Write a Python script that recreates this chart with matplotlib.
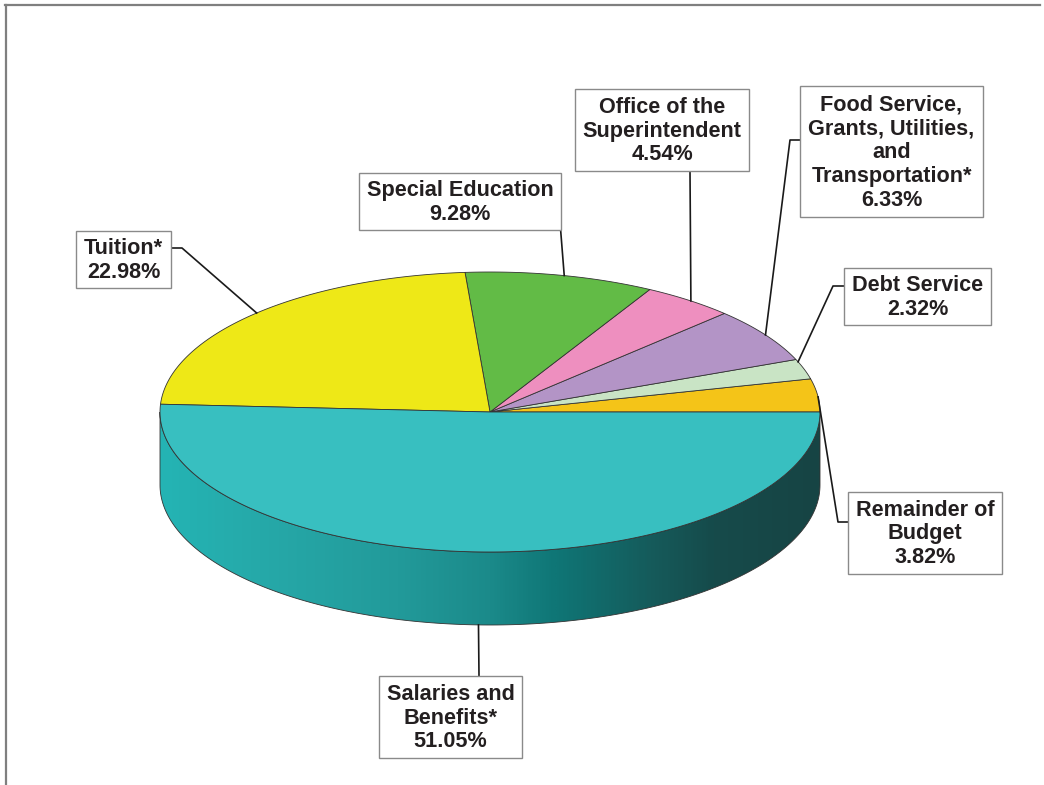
import matplotlib
matplotlib.use("Agg")
import matplotlib.pyplot as plt
import numpy as np
from matplotlib.patches import Polygon, Rectangle
from matplotlib.colors import LinearSegmentedColormap, to_rgb

# budget shares, counter-clockwise from 3 o'clock
categories = ["Remainder of\nBudget", "Debt Service",
              "Food Service,\nGrants, Utilities,\nand\nTransportation*",
              "Office of the\nSuperintendent", "Special Education",
              "Tuition*", "Salaries and\nBenefits*"]
shares = [3.82, 2.32, 6.33, 4.54, 9.28, 22.98, 51.05]
colors = ["#f4c418", "#c9e4c5", "#b394c6", "#ee8fbf", "#62bb46",
          "#eee817", "#38bfc0"]

# pie geometry in pixels (y grows downward)
CX, CY, RX, RY, DEPTH = 490, 412, 330, 140, 73

# label boxes (x0, y0, x1, y1), leader start/elbow, angle where leader hits pie
boxes = [(848, 492, 1002, 574), (844, 268, 991, 325), (800, 86, 983, 217),
         (575, 89, 749, 171), (359, 173, 561, 230), (76, 231, 171, 288),
         (379, 676, 522, 758)]
leaders = [[(848, 522), (838, 522)], [(844, 286), (833, 286)],
           [(800, 140), (790, 140)], [(690, 171)], [(560, 222)],
           [(171, 248), (182, 248)], [(479, 676)]]
hit_angle = [6.2, 21.0, 33.4, 52.5, 77.0, 135.0, 268.0]
hit_bottom = [False, False, False, False, False, False, True]

side_cmap = LinearSegmentedColormap.from_list("side", [
    (0.00, "#24b4b4"), (0.15, "#26a9a9"), (0.36, "#229a9a"),
    (0.50, "#1b8a8a"), (0.60, "#0f7676"), (0.74, "#155c5c"),
    (0.84, "#164b4b"), (1.00, "#174444")])


def ell(t_deg, dy=0):
    t = np.radians(t_deg)
    return CX + RX * np.cos(t), CY - RY * np.sin(t) + dy


fig = plt.figure(figsize=(10.44, 7.85), dpi=100)
ax = fig.add_axes([0, 0, 1, 1])
ax.set_xlim(0, 1044)
ax.set_ylim(785, 0)
ax.axis("off")

frac = np.array(shares) / sum(shares)
bounds = np.concatenate([[0], np.cumsum(frac) * 360])

# front side walls
for i, col in enumerate(colors):
    s, e = max(bounds[i], 180), min(bounds[i + 1], 360)
    if e <= s:
        continue
    t = np.linspace(s, e, 200)
    xt, yt = ell(t)
    xb, yb = ell(t[::-1], DEPTH)
    poly = Polygon(np.column_stack([np.r_[xt, xb], np.r_[yt, yb]]),
                   closed=True, facecolor="none", edgecolor="#333333",
                   lw=0.6, zorder=2)
    ax.add_patch(poly)
    if col == "#38bfc0":
        grad = side_cmap(np.linspace(0, 1, 400))[None, :, :3]
    else:
        c = np.array(to_rgb(col)) * 0.7
        grad = np.tile(c, (1, 2, 1))
    im = ax.imshow(grad, extent=(CX - RX, CX + RX, CY + RY + DEPTH + 2, CY - 2),
                   aspect="auto", zorder=1, interpolation="bilinear")
    im.set_clip_path(poly)

# top faces
for i, col in enumerate(colors):
    t = np.linspace(bounds[i], bounds[i + 1], 200)
    xt, yt = ell(t)
    pts = np.column_stack([np.r_[CX, xt], np.r_[CY, yt]])
    ax.add_patch(Polygon(pts, closed=True, facecolor=col,
                         edgecolor="#333333", lw=0.6, zorder=3))

# labels
for i, name in enumerate(categories):
    x0, y0, x1, y1 = boxes[i]
    ax.add_patch(Rectangle((x0, y0), x1 - x0, y1 - y0, facecolor="white",
                           edgecolor="#8a8a8a", lw=1.0, zorder=5))
    ax.text((x0 + x1) / 2, (y0 + y1) / 2 + 1, f"{name}\n{shares[i]:.2f}%",
            ha="center", va="center", fontsize=15.6, fontweight="bold",
            family="Liberation Sans", color="#231f20", linespacing=1.18,
            zorder=6)
    end = ell(hit_angle[i], DEPTH if hit_bottom[i] else 0)
    pts = leaders[i] + [end]
    ax.plot([p[0] for p in pts], [p[1] for p in pts], color="#1a1a1a",
            lw=1.2, zorder=4)

# outer frame (top and left only)
ax.plot([5, 1040], [5, 5], color="#7f7f7f", lw=1.6)
ax.plot([6, 6], [5, 785], color="#7f7f7f", lw=1.6)

fig.savefig("out.png", dpi=100, facecolor="white")
